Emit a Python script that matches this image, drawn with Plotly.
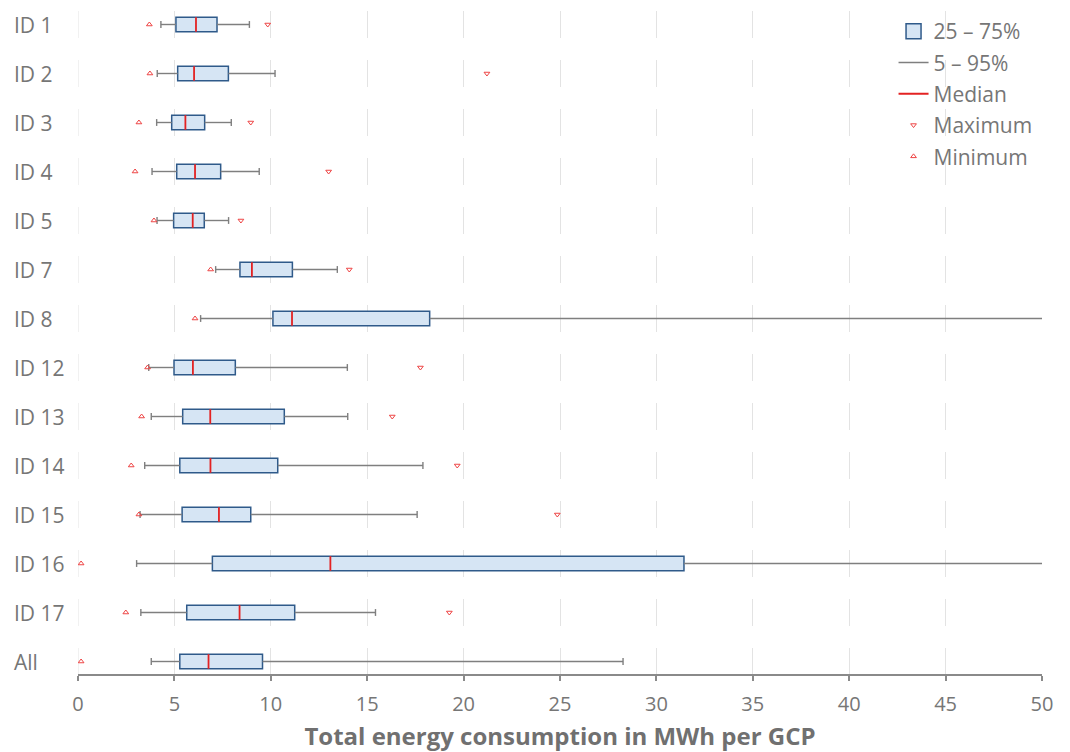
import plotly.graph_objects as go

ids = ["ID 1", "ID 2", "ID 3", "ID 4", "ID 5", "ID 7", "ID 8", "ID 12", "ID 13",
       "ID 14", "ID 15", "ID 16", "ID 17", "All"]
minimum = [3.70, 3.73, 3.16, 2.96, 3.94, 6.88, 6.07, 3.61, 3.30, 2.76, 3.16, 0.16, 2.48, 0.16]
p5 = [4.30, 4.11, 4.08, 3.84, 4.10, 7.14, 6.36, 3.67, 3.80, 3.46, 3.22, 3.04, 3.26, 3.80]
q1 = [5.08, 5.17, 4.86, 5.12, 4.96, 8.40, 10.11, 4.98, 5.43, 5.28, 5.40, 6.97, 5.64, 5.28]
median = [6.12, 6.02, 5.57, 6.07, 5.95, 9.02, 11.10, 5.96, 6.86, 6.87, 7.31, 13.09, 8.38, 6.77]
q3 = [7.21, 7.80, 6.57, 7.40, 6.55, 11.12, 18.24, 8.16, 10.70, 10.36, 8.96, 31.43, 11.24, 9.57]
p95 = [8.89, 10.22, 7.95, 9.40, 7.81, 13.45, 58.0, 13.97, 13.99, 17.89, 17.59, 62.0, 15.43, 28.27]
maximum = [9.84, 21.21, 8.96, 13.0, 8.45, 14.07, 75.0, 17.76, 16.30, 19.67, 24.86, 95.0, 19.26, 95.0]
x_ticks = [0, 5, 10, 15, 20, 25, 30, 35, 40, 45, 50]

legend_names = ["25 \u2013 75%", "5 \u2013 95%", "Median", "Maximum", "Minimum"]
x_title = "Total energy consumption in MWh per GCP"

FONT = "Open Sans"
GRAY_TXT = "#767676"
GRID = "#E3E3E3"
DASH = "27px,22px"
BOX_FILL = "#D6E5F4"
BOX_LINE = "#2F5A8A"
HB = 0.15   # half box height (category units)
HC = 0.07   # half cap height

pos = list(range(len(ids)))

# whiskers with caps
wx, wy = [], []
for i, lo, a, b, hi in zip(pos, p5, q1, q3, p95):
    wx += [lo, a, None, b, hi, None, lo, lo, None, hi, hi, None]
    wy += [i, i, None, i, i, None, i - HC, i + HC, None, i - HC, i + HC, None]

# medians
mx, my = [], []
for i, m in zip(pos, median):
    mx += [m, m, None]
    my += [i - HB, i + HB, None]

fig = go.Figure()
# legend entry for the interquartile boxes (boxes themselves are shapes below)
fig.add_trace(go.Scatter(x=[None], y=[None], mode="markers",
                         marker=dict(symbol="square", size=15, color=BOX_FILL,
                                     line=dict(color=BOX_LINE, width=1.5)),
                         name=legend_names[0], legendgroup="a", legendrank=1))
fig.add_trace(go.Scatter(x=wx, y=wy, mode="lines",
                         line=dict(color="#7F7F7F", width=1.4),
                         name=legend_names[1], legendgroup="b", legendrank=2,
                         hoverinfo="skip"))
fig.add_trace(go.Scatter(x=mx, y=my, mode="lines",
                         line=dict(color="#E32222", width=1.8),
                         name=legend_names[2], legendgroup="c", legendrank=3,
                         hoverinfo="skip"))
fig.add_trace(go.Scatter(x=maximum, y=pos, mode="markers",
                         marker=dict(symbol="triangle-down-open", size=5,
                                     color="#EE4444", line=dict(width=1)),
                         name=legend_names[3], legendgroup="d", legendrank=4))
fig.add_trace(go.Scatter(x=minimum, y=pos, mode="markers",
                         marker=dict(symbol="triangle-up-open", size=5,
                                     color="#EE4444", line=dict(width=1)),
                         name=legend_names[4], legendgroup="e", legendrank=5))

# interquartile boxes as shapes drawn on the data axes
for i, a, b in zip(pos, q1, q3):
    fig.add_shape(type="rect", xref="x", yref="y", x0=a, x1=b,
                  y0=i - HB, y1=i + HB, layer="between",
                  fillcolor=BOX_FILL, line=dict(color=BOX_LINE, width=1.5))

# dashed gridline at x = 0 (plotly omits the one at the edge)
fig.add_shape(type="line", xref="x", yref="paper", x0=0, x1=0, y0=1, y1=0,
              layer="below", line=dict(color=GRID, width=1, dash=DASH))

for i, lab in zip(pos, ids):
    fig.add_annotation(x=-0.0685, xref="paper", y=i, yref="y", text=lab,
                       showarrow=False, xanchor="left", yanchor="middle",
                       font=dict(family=FONT, size=21, color=GRAY_TXT))

fig.update_layout(
    width=1070, height=752,
    margin=dict(l=70, r=36, t=3, b=86),
    paper_bgcolor="white", plot_bgcolor="white",
    font=dict(family=FONT, color=GRAY_TXT),
    legend=dict(x=0.846, xanchor="left", y=1.0, yanchor="top",
                bgcolor="rgba(0,0,0,0)", font=dict(size=21, color=GRAY_TXT),
                tracegroupgap=1, itemwidth=30),
    xaxis=dict(range=[0, 50], tickvals=x_ticks, ticktext=[str(v) for v in x_ticks],
               showgrid=True, gridcolor=GRID, gridwidth=1, griddash=DASH,
               zeroline=False, showline=True, linecolor="#8A8A8A", linewidth=1.5,
               ticks="outside", ticklen=5, tickcolor="#8A8A8A", tickwidth=1.5,
               ticklabelstandoff=6,
               tickfont=dict(size=20, color=GRAY_TXT),
               title=dict(text="<b>" + x_title + "</b>", standoff=12,
                          font=dict(size=24, color="#707070"))),
    yaxis=dict(range=[13.255, -0.2755], showticklabels=False, showgrid=False,
               zeroline=False, showline=False, ticks=""),
    showlegend=True,
)

fig.write_html("out.html")
